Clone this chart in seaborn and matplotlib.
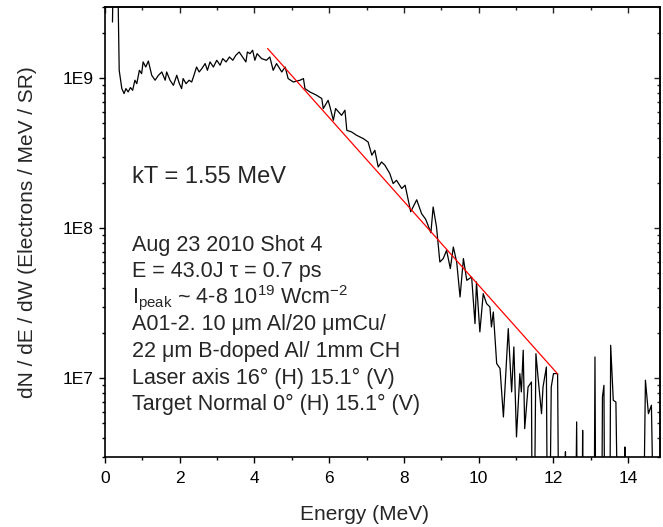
import numpy as np
import pandas as pd
import matplotlib
matplotlib.use("Agg")
import matplotlib.pyplot as plt
import seaborn as sns
from matplotlib.ticker import (FixedLocator, FuncFormatter, LogLocator,
                               MultipleLocator, NullFormatter)

# ---- data ----
energy_mev = [0.20, 0.22, 0.34, 0.38, 0.45, 0.51, 0.56, 0.62, 0.68, 0.74, 0.80, 0.85,
              0.92, 0.98, 1.02, 1.09, 1.16, 1.25, 1.34, 1.43, 1.52, 1.61, 1.65, 1.74,
              1.83, 1.92, 1.99, 2.05, 2.09, 2.17, 2.25, 2.32, 2.38, 2.45, 2.52, 2.59,
              2.68, 2.74, 2.81, 2.90, 2.99, 3.08, 3.15, 3.24, 3.33, 3.42, 3.50, 3.59,
              3.68, 3.77, 3.81, 3.88, 3.95, 4.01, 4.07, 4.19, 4.32, 4.41, 4.50, 4.59,
              4.73, 4.82, 4.90, 5.04, 5.22, 5.31, 5.35, 5.48, 5.66, 5.80, 5.84, 5.97,
              6.02, 6.11, 6.17, 6.33, 6.42, 6.47, 6.60, 6.73, 6.91, 7.04, 7.14, 7.22,
              7.31, 7.40, 7.49, 7.62, 7.71, 7.80, 7.94, 8.03, 8.18, 8.34, 8.47, 8.58,
              8.72, 8.78, 8.87, 8.96, 9.05, 9.14, 9.24, 9.32, 9.41, 9.50, 9.59, 9.68,
              9.81, 9.90, 9.94, 10.03, 10.12, 10.21, 10.30, 10.34, 10.39, 10.48, 10.57,
              10.66, 10.79, 10.88, 10.94, 11.01, 11.10, 11.14, 11.19, 11.23, 11.32,
              11.41, 11.45, 11.53, 11.59, 11.68, 11.72, 11.81, 11.86, 11.94, 12.00,
              12.11, 12.17, 12.28, 12.32, 12.36, 12.55, 12.62, 12.66, 12.74, 12.78,
              12.81, 13.07, 13.11, 13.15, 13.27, 13.31, 13.35, 13.39, 13.49, 13.53,
              13.60, 13.67, 13.78, 13.87, 13.91, 13.94, 14.36, 14.46, 14.54, 14.62,
              14.75, 14.85]
# log10 of dN/dE/dW (values at 5.0 are zero-count channels below the axis)
log10_counts = [9.375, 9.70, 9.70, 9.053, 8.931, 8.898, 8.931, 8.909, 8.938, 8.920, 8.987, 8.964,
                9.053, 9.031, 9.109, 9.075, 9.115, 9.020, 8.987, 9.020, 9.042, 8.987, 9.042, 8.987,
                8.953, 9.020, 8.964, 8.931, 8.998, 8.964, 8.987, 8.975, 9.020, 9.075, 9.042, 9.064,
                9.098, 9.053, 9.109, 9.075, 9.120, 9.087, 9.131, 9.109, 9.142, 9.120, 9.153, 9.175,
                9.142, 9.109, 9.175, 9.164, 9.187, 9.120, 9.164, 9.131, 9.120, 9.142, 9.053, 9.098,
                9.042, 9.075, 8.998, 8.975, 8.987, 8.998, 8.931, 8.909, 8.887, 8.865, 8.798, 8.853,
                8.809, 8.720, 8.798, 8.753, 8.787, 8.653, 8.642, 8.620, 8.598, 8.575, 8.487, 8.520,
                8.409, 8.442, 8.420, 8.365, 8.298, 8.320, 8.265, 8.287, 8.110, 8.190, 8.098, 8.060,
                7.970, 8.142, 8.009, 7.775, 7.798, 7.853, 7.731, 7.875, 7.775, 7.542, 7.798, 7.653,
                7.675, 7.364, 7.642, 7.309, 7.564, 7.498, 7.475, 7.342, 7.442, 7.098, 7.065,
                6.742, 7.331, 6.909, 7.209, 6.609, 7.031, 6.909, 7.187, 6.664, 6.942,
                6.975, 5.0, 7.164, 6.998, 6.764, 6.942, 7.075, 5.0, 6.942, 7.031,
                7.031, 5.0, 5.0, 6.510, 5.0, 5.0, 6.709, 5.0, 5.0, 6.653,
                5.0, 5.0, 7.142, 5.0, 5.0, 6.875, 6.953, 5.0, 5.0, 7.220,
                6.853, 6.842, 5.0, 5.0, 6.542, 5.0, 5.0, 6.987, 6.764, 6.820,
                5.0, 5.0]

fit_energy = [4.35, 12.11]
fit_counts = [1.58e9, 1.07e7]

x_ticks = [0, 2, 4, 6, 8, 10, 12, 14]
y_ticks = [1e7, 1e8, 1e9]
y_tick_labels = ["1E7", "1E8", "1E9"]

annotation_lines = [
    "Aug 23 2010 Shot 4",
    "E = 43.0J \u03c4 = 0.7 ps",
    r"I$_{\mathrm{peak}}$ ~ 4-8 10$^{19}$ Wcm$^{-2}$",
    "A01-2. 10 \u03bcm Al/20 \u03bcmCu/",
    "22 \u03bcm B-doped Al/ 1mm CH",
    "Laser axis 16\u00b0 (H) 15.1\u00b0 (V)",
    "Target Normal 0\u00b0 (H) 15.1\u00b0 (V)",
]
kt_text = "kT = 1.55 MeV"

# ---- style ----
sns.set_style("ticks")
plt.rcParams['font.family'] = ['Liberation Sans', 'DejaVu Sans']
plt.rcParams['mathtext.fontset'] = 'custom'
plt.rcParams['mathtext.rm'] = 'Liberation Sans'
plt.rcParams['mathtext.it'] = 'Liberation Sans:italic'
plt.rcParams['mathtext.bf'] = 'Liberation Sans:bold'

W, H = 663, 527
fig = plt.figure(figsize=(W / 100, H / 100), dpi=100)
L, R, T, B = 105, 660, 6.7, 456.7
ax = fig.add_axes([L / W, 1 - B / H, (R - L) / W, (B - T) / H])

df = pd.DataFrame({"Energy": energy_mev, "Counts": 10 ** np.array(log10_counts)})
fit_df = pd.DataFrame({"Energy": fit_energy, "Counts": fit_counts})

sns.lineplot(data=df, x="Energy", y="Counts", ax=ax, color="black",
             linewidth=0.9, estimator=None, sort=False)
sns.lineplot(data=fit_df, x="Energy", y="Counts", ax=ax, color="#ff0000",
             linewidth=0.9, estimator=None, sort=False)

ax.set_yscale("log")
ax.set_xlim(0, 14.85)
ax.set_ylim(3e6, 3e9)

ax.xaxis.set_major_locator(FixedLocator(x_ticks))
ax.xaxis.set_minor_locator(MultipleLocator(1))
ax.yaxis.set_major_locator(FixedLocator(y_ticks))
ax.yaxis.set_major_formatter(FuncFormatter(
    lambda v, p: y_tick_labels[y_ticks.index(v)] if v in y_ticks else ""))
ax.yaxis.set_minor_locator(LogLocator(base=10, subs=range(2, 10), numticks=20))
ax.yaxis.set_minor_formatter(NullFormatter())

ax.tick_params(which="major", direction="out", length=4, width=1.0,
               labelsize=12.5, color="black", labelcolor="black")
ax.tick_params(axis="x", which="major", pad=6)
ax.tick_params(axis="y", which="major", pad=4)
ax.tick_params(which="minor", direction="out", length=2.5, width=1.0, color="black")
for s in ax.spines.values():
    s.set_linewidth(1.2)
    s.set_color("black")

# inward ticks on the top and right edges
secx = ax.secondary_xaxis("top")
secx.xaxis.set_major_locator(FixedLocator(x_ticks))
secx.xaxis.set_minor_locator(MultipleLocator(1))
secx.xaxis.set_major_formatter(NullFormatter())
secx.tick_params(which="major", direction="in", length=4, width=1.0)
secx.tick_params(which="minor", direction="in", length=2.5, width=1.0)
secx.spines["top"].set_linewidth(1.2)

secy = ax.secondary_yaxis("right")
secy.yaxis.set_major_locator(FixedLocator(y_ticks))
secy.yaxis.set_minor_locator(LogLocator(base=10, subs=range(2, 10), numticks=20))
secy.yaxis.set_major_formatter(NullFormatter())
secy.yaxis.set_minor_formatter(NullFormatter())
secy.tick_params(which="major", direction="in", length=4, width=1.0)
secy.tick_params(which="minor", direction="in", length=2.5, width=1.0)
secy.spines["right"].set_linewidth(1.2)

ax.set_xlabel("Energy (MeV)", fontsize=15, va="center")
ax.xaxis.set_label_coords((364 - L) / (R - L), -(515 - B) / (B - T))
ax.set_ylabel("dN / dE / dW (Electrons / MeV / SR)", fontsize=15, va="center")
ax.yaxis.set_label_coords(-(L - 28) / (R - L), 0.5)

# annotations (figure pixel positions converted to figure fraction)
fig.text(132 / W, 1 - 183.3 / H, kt_text, fontsize=17, va="baseline", ha="left")
baselines = [250.7, 277.3, 303.6, 330.3, 357.0, 383.7, 410.4]
for txt, yb in zip(annotation_lines, baselines):
    fig.text(132 / W, 1 - yb / H, txt, fontsize=15.5, va="baseline", ha="left")

fig.savefig("out.png", dpi=100)
